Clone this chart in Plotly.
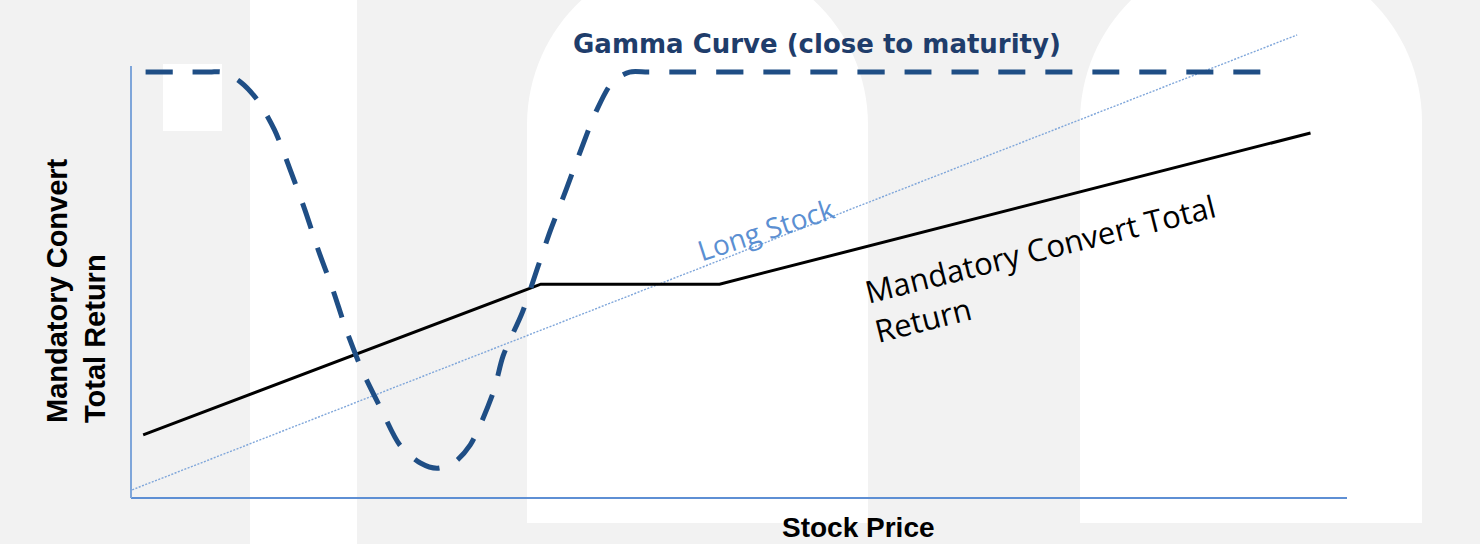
import plotly.graph_objects as go

# ---------- data (stock price 0..100 along x, total return 0..100 up the drawn axis) ----------
mc_x = [1.0, 33.7, 48.4, 97.0]
mc_y = [14.6, 49.5, 49.5, 84.5]

stock_x = [0.1, 95.9]
stock_y = [1.9, 107.2]

gamma_x = [1.2, 4.0, 6.5, 7.5, 9.0, 10.4, 11.8, 13.1, 14.3, 15.4, 16.6, 17.7, 19.0, 20.6,
           22.1, 23.8, 25.2, 26.6, 27.9, 29.8, 30.6, 32.2, 33.4, 34.5, 35.8, 37.0, 38.3,
           39.6, 41.0, 42.5, 46.0, 70.0, 93.3]
gamma_y = [98.6, 98.6, 98.6, 98.6, 96.3, 92.1, 85.2, 75.9, 66.7, 57.4, 48.2, 38.9, 29.6, 20.4,
           12.3, 8.1, 6.9, 8.3, 12.3, 24.5, 32.9, 43.1, 53.0, 62.0, 71.5, 80.6, 89.8,
           96.3, 98.6, 98.6, 98.6, 98.6, 98.6]

# ---------- page geometry ----------
W, H = 1480, 544
L, R, T, B = 131, 133, 20, 46
PW, PH = W - L - R, H - T - B
Y_TOP = PH / 4.32  # y units per pixel so that 100 sits on the top of the axis


def px(x):
    return (x - L) / PW


def py(y):
    return (H - B - y) / PH


def arch(left, right, cy, bottom):
    # white rounded-top panel in the background
    r = (right - left) / 2
    cx = left + r
    k = 0.5523 * r
    pts = [
        f"M{px(left)},{py(bottom)}",
        f"L{px(left)},{py(cy)}",
        f"C{px(left)},{py(cy - k)} {px(cx - k)},{py(cy - r)} {px(cx)},{py(cy - r)}",
        f"C{px(cx + k)},{py(cy - r)} {px(right)},{py(cy - k)} {px(right)},{py(cy)}",
        f"L{px(right)},{py(bottom)}",
        "Z",
    ]
    return dict(type="path", xref="paper", yref="paper", path=" ".join(pts),
                fillcolor="white", line=dict(width=0), layer="below")


def rect(x0, x1, y0, y1):
    return dict(type="rect", xref="paper", yref="paper",
                x0=px(x0), x1=px(x1), y0=py(y1), y1=py(y0),
                fillcolor="white", line=dict(width=0), layer="below")


fig = go.Figure()

fig.add_trace(go.Scatter(
    x=stock_x, y=stock_y, mode="lines",
    line=dict(color="#7FA6DA", width=1.4, dash="2px,1.5px"),
    hoverinfo="skip", showlegend=False,
))
fig.add_trace(go.Scatter(
    x=mc_x, y=mc_y, mode="lines",
    line=dict(color="#000000", width=3),
    hoverinfo="skip", showlegend=False,
))
fig.add_trace(go.Scatter(
    x=gamma_x, y=gamma_y, mode="lines",
    line=dict(color="#1F4E85", width=5, dash="27px,20px", shape="spline", smoothing=0.8),
    hoverinfo="skip", showlegend=False,
))

shapes = [
    rect(250, 357, -10, 560),
    arch(527, 868, 125, 523),
    arch(1080, 1422, 122, 523),
    rect(163, 222, 64, 131),
    # axis lines (paper refs so they are not clipped at the plot edge)
    dict(type="line", xref="paper", yref="paper", x0=0, x1=1, y0=py(H - B), y1=py(H - B),
         line=dict(color="#5E8FD4", width=2), layer="below"),
    dict(type="line", xref="paper", yref="paper", x0=0, x1=0, y0=py(H - B), y1=py(66),
         line=dict(color="#7FA6DA", width=2), layer="below"),
]

annotations = [
    dict(text="<b>Gamma Curve (close to maturity)</b>", xref="paper", yref="paper",
         x=px(817), y=py(44), showarrow=False, xanchor="center", yanchor="middle",
         font=dict(family="DejaVu Sans", size=26, color="#1F3D6B")),
    dict(text="<b>Stock Price</b>", xref="paper", yref="paper",
         x=px(858), y=py(527), showarrow=False, xanchor="center", yanchor="middle",
         font=dict(family="Liberation Sans, Arial", size=28, color="#000000")),
    dict(text="<b>Mandatory Convert<br>Total Return</b>", xref="paper", yref="paper",
         x=px(76), y=py(291), showarrow=False, xanchor="center", yanchor="middle",
         textangle=-90, align="left",
         font=dict(family="Liberation Sans, Arial", size=29, color="#000000")),
    dict(text="Long Stock", xref="paper", yref="paper",
         x=px(766), y=py(229), showarrow=False, xanchor="center", yanchor="middle",
         textangle=-18,
         font=dict(family="Open Sans", size=28, color="#5B8FD2")),
    dict(text="Mandatory Convert Total<br>Return", xref="paper", yref="paper",
         x=px(1045), y=py(268), showarrow=False, xanchor="center", yanchor="middle",
         textangle=-14, align="left",
         font=dict(family="Open Sans", size=31, color="#000000")),
]

fig.update_layout(
    width=W, height=H,
    margin=dict(l=L, r=R, t=T, b=B, pad=0),
    paper_bgcolor="#F2F2F2",
    plot_bgcolor="rgba(0,0,0,0)",
    xaxis=dict(range=[0, 100], visible=False, fixedrange=True),
    yaxis=dict(range=[0, Y_TOP], visible=False, fixedrange=True),
    shapes=shapes,
    annotations=annotations,
    showlegend=False,
)

fig.write_html(
    "out.html",
    config={"displayModeBar": False},
    post_script="document.body.style.margin='0';document.body.style.overflow='hidden';",
)
